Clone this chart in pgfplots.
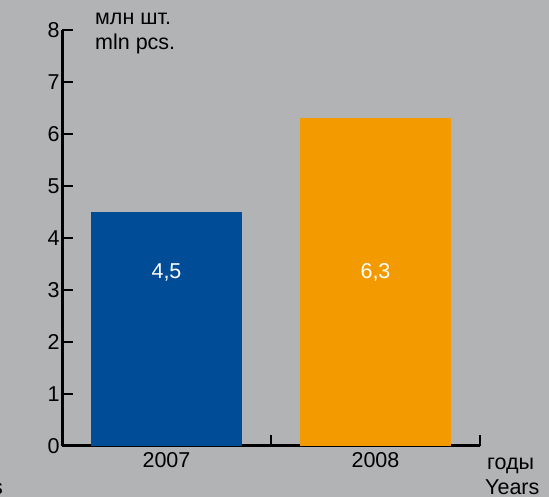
\documentclass[border=0pt]{standalone}
\usepackage{pgfplots}
\pgfplotsset{compat=1.18}
\usepackage{fontspec}
\setmainfont{Liberation Sans}
\definecolor{bg}{HTML}{B2B3B5}
\definecolor{barblue}{HTML}{004C97}
\definecolor{barorange}{HTML}{F29A00}
\newcommand{\lf}{\fontsize{21.5}{25}\selectfont}
\begin{document}
\begin{tikzpicture}
\fill[bg] (0,0) rectangle (549pt,497pt);
\useasboundingbox (0,0) rectangle (549pt,497pt);
\begin{axis}[
  at={(62pt,51pt)}, anchor=south west, scale only axis,
  width=418pt, height=416pt,
  xmin=0, xmax=2, ymin=0, ymax=8,
  axis x line=bottom, axis y line=left,
  axis line style={-, line width=3pt, black},
  ytick={0,1,...,8},
  xtick={1,2}, xticklabels={2007,2008},
  xticklabel style={xshift=-104.5pt, yshift=-3pt},
  yticklabel style={xshift=1pt},
  tick align=inside,
  major tick length=11pt,
  tick style={line width=2.5pt, black},
  tick label style={font=\lf},
  /pgf/number format/assume math mode=true,
  clip=false,
]
\addplot[ybar, bar width=151pt, bar shift=0pt, fill=barblue, draw=none] coordinates {(0.5,4.5)};
\addplot[ybar, bar width=151pt, bar shift=0pt, fill=barorange, draw=none] coordinates {(1.5,6.3)};
\node[white, font=\lf] at (axis cs:0.5,3.33) {4,5};
\node[white, font=\lf] at (axis cs:1.5,3.33) {6,3};
\end{axis}
\node[anchor=base west, inner sep=0pt, font=\lf] at (95pt,472pt) {млн шт.};
\node[anchor=base west, inner sep=0pt, font=\lf] at (95pt,447pt) {mln pcs.};
\node[anchor=base west, inner sep=0pt, font=\lf] at (487pt,27pt) {годы};
\node[anchor=base west, inner sep=0pt, font=\lf] at (485pt,2.5pt) {Years};
\node[anchor=base east, inner sep=0pt, font=\lf] at (3pt,2.5pt) {Years};
\end{tikzpicture}
\end{document}
